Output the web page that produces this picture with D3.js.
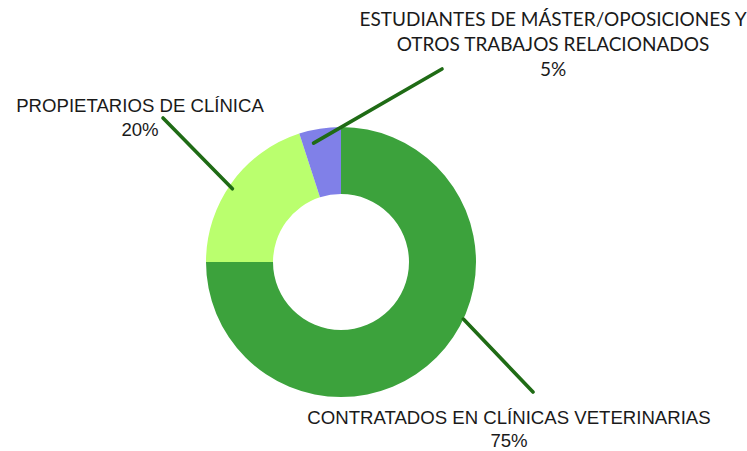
<!DOCTYPE html>
<html>
<head>
<meta charset="utf-8">
<script src="https://cdn.jsdelivr.net/npm/d3@7"></script>
<style>
  body { margin: 0; background: #fff; }
</style>
</head>
<body>
<div id="chart"></div>
<script>
// donut: salidas profesionales

var categories = ["CONTRATADOS EN CLÍNICAS VETERINARIAS", "PROPIETARIOS DE CLÍNICA", "ESTUDIANTES DE MÁSTER/OPOSICIONES Y OTROS TRABAJOS RELACIONADOS"];
var values = [75, 20, 5];
var labelLines = [["CONTRATADOS EN CLÍNICAS VETERINARIAS"], ["PROPIETARIOS DE CLÍNICA"], ["ESTUDIANTES DE MÁSTER/OPOSICIONES Y", "OTROS TRABAJOS RELACIONADOS"]];
var colors = ["#3ca23c", "#baff6e", "#8080e8"];

var width = 747, height = 451,
    cx = 341, cy = 262,
    outerR = 135, innerR = 68;

// where each leader line starts (angle in deg, radius) and where the label sits
var layout = [
  {ang: 115, r: 135, end: [533, 392], lx: 509, ly: 424, lh: 23, size: 18.6, font: "'Liberation Sans', Arimo, Arial, sans-serif"},
  {ang: 304, r: 131, end: [163, 118], lx: 140, ly: 112, lh: 24, size: 18.6, font: "'Liberation Sans', Arimo, Arial, sans-serif"},
  {ang: 347, r: 122, end: [442, 69],  lx: 553, ly: 26,  lh: 25, size: 19, font: "Lato, 'Open Sans', sans-serif"}
];

var svg = d3.select("#chart").append("svg")
    .attr("width", width)
    .attr("height", height);

var g = svg.append("g").attr("transform", "translate(" + cx + "," + cy + ")");

var pie = d3.pie().sort(null).value(function(d) { return d; });
var arc = d3.arc().innerRadius(innerR).outerRadius(outerR);

g.selectAll(".slice")
  .data(pie(values))
  .enter().append("path")
    .attr("class", "slice")
    .attr("d", arc)
    .attr("fill", function(d, i) { return colors[i]; });

// leader lines + labels
layout.forEach(function(l, i) {
  var a = l.ang * Math.PI / 180;
  svg.append("line")
    .attr("x1", cx + l.r * Math.sin(a))
    .attr("y1", cy - l.r * Math.cos(a))
    .attr("x2", l.end[0])
    .attr("y2", l.end[1])
    .attr("stroke", "#1f6b15")
    .attr("stroke-width", 3.6)
    .attr("stroke-linecap", "round");

  var lines = labelLines[i].concat([values[i] + "%"]);
  lines.forEach(function(t, k) {
    svg.append("text")
      .attr("x", l.lx)
      .attr("y", l.ly + k * l.lh)
      .attr("text-anchor", "middle")
      .attr("font-family", l.font)
      .attr("font-size", l.size)
      .attr("fill", "#1a1a1a")
      .text(t);
  });
});
</script>
</body>
</html>
